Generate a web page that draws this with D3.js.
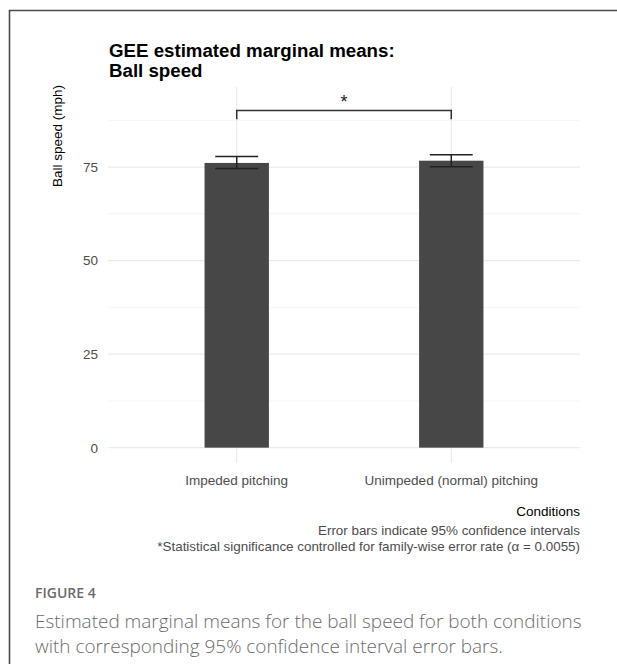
<!DOCTYPE html>
<html>
<head>
<meta charset="utf-8">
<script src="https://cdn.jsdelivr.net/npm/d3@7"></script>
<style>
  html, body { margin: 0; padding: 0; background: #fff; }
  svg { display: block; }
</style>
</head>
<body>
<svg id="chart" width="617" height="664"></svg>
<script>
// ---- data ----
const categories = ["Impeded pitching", "Unimpeded (normal) pitching"];
const means = [76.1, 76.7];
const ciLower = [74.6, 75.1];
const ciUpper = [77.8, 78.3];
const yTicks = [0, 25, 50, 75];
const yMinorTicks = [12.5, 37.5, 62.5, 87.5];
const bracketValue = 90.1;
const bracketDrop = 87.8;
const sigLabel = "*";
const titleLines = ["GEE estimated marginal means:", "Ball speed"];
const yTitle = "Ball speed (mph)";
const xTitle = "Conditions";
const captionLines = ["Error bars indicate 95% confidence intervals",
  "*Statistical significance controlled for family-wise error rate (\u03b1 = 0.0055)"];
const figLabel = "FIGURE 4";
const figCaption = ["Estimated marginal means for the ball speed for both conditions",
  "with corresponding 95% confidence interval error bars."];

// ---- layout ----
const svg = d3.select("#chart");
const plot = {left: 108, right: 580, top: 87, bottom: 463};
const sans = "'Liberation Sans', Arial, Helvetica, sans-serif";

// frame
svg.append("path")
  .attr("d", "M9.5,664 L9.5,10.5 L617,10.5")
  .attr("fill", "none").attr("stroke", "#4a4a4a").attr("stroke-width", 1.6);

const y = d3.scaleLinear().domain([-4.1, 96.4]).range([plot.bottom, plot.top]);
const x = d3.scalePoint().domain(categories).range([plot.left, plot.right]).padding(0.6);
const step = x.step();
const barW = step * 0.3;
const errW = step * 0.2;

const g = svg.append("g");

// minor gridlines
g.selectAll(".minor").data(yMinorTicks).enter().append("line")
  .attr("x1", plot.left).attr("x2", plot.right)
  .attr("y1", d => y(d)).attr("y2", d => y(d))
  .attr("stroke", "#f2f2f2").attr("stroke-width", 0.8);
// major gridlines
g.selectAll(".major").data(yTicks).enter().append("line")
  .attr("x1", plot.left).attr("x2", plot.right)
  .attr("y1", d => y(d)).attr("y2", d => y(d))
  .attr("stroke", "#ebebeb").attr("stroke-width", 1.2);
// vertical gridlines
g.selectAll(".vgrid").data(categories).enter().append("line")
  .attr("x1", d => x(d)).attr("x2", d => x(d))
  .attr("y1", plot.top).attr("y2", plot.bottom)
  .attr("stroke", "#ebebeb").attr("stroke-width", 1.2);

// bars
g.selectAll(".bar").data(categories).enter().append("rect")
  .attr("x", d => x(d) - barW / 2)
  .attr("width", barW)
  .attr("y", (d, i) => y(means[i]))
  .attr("height", (d, i) => y(0) - y(means[i]))
  .attr("fill", "#474747");

// error bars
const eb = g.selectAll(".eb").data(categories).enter().append("g");
eb.append("line")
  .attr("x1", d => x(d)).attr("x2", d => x(d))
  .attr("y1", (d, i) => y(ciLower[i])).attr("y2", (d, i) => y(ciUpper[i]));
eb.append("line")
  .attr("x1", d => x(d) - errW / 2).attr("x2", d => x(d) + errW / 2)
  .attr("y1", (d, i) => y(ciUpper[i])).attr("y2", (d, i) => y(ciUpper[i]));
eb.append("line")
  .attr("x1", d => x(d) - errW / 2).attr("x2", d => x(d) + errW / 2)
  .attr("y1", (d, i) => y(ciLower[i])).attr("y2", (d, i) => y(ciLower[i]));
eb.selectAll("line").attr("stroke", "#222").attr("stroke-width", 1.5);

// significance bracket
const x0 = x(categories[0]), x1 = x(categories[1]);
g.append("path")
  .attr("d", `M${x0},${y(bracketDrop)} L${x0},${y(bracketValue)} L${x1},${y(bracketValue)} L${x1},${y(bracketDrop)}`)
  .attr("fill", "none").attr("stroke", "#333").attr("stroke-width", 1.5);
g.append("text")
  .attr("x", (x0 + x1) / 2).attr("y", y(bracketValue) - 3)
  .attr("text-anchor", "middle")
  .attr("font-family", sans).attr("font-size", 18).attr("fill", "#222")
  .text(sigLabel);

// y axis tick labels
g.selectAll(".ytl").data(yTicks).enter().append("text")
  .attr("x", 98).attr("y", d => y(d)).attr("dy", "0.36em")
  .attr("text-anchor", "end")
  .attr("font-family", sans).attr("font-size", 13.5).attr("fill", "#4d4d4d")
  .text(d => d3.format("d")(d));

// x axis tick labels
g.selectAll(".xtl").data(categories).enter().append("text")
  .attr("x", d => x(d)).attr("y", 485)
  .attr("text-anchor", "middle")
  .attr("font-family", sans).attr("font-size", 13.5).attr("fill", "#4d4d4d")
  .text(d => d);

// y title
svg.append("text")
  .attr("transform", "translate(62,85) rotate(-90)")
  .attr("text-anchor", "end")
  .attr("font-family", sans).attr("font-size", 13.5).attr("fill", "#000")
  .text(yTitle);

// x title
svg.append("text")
  .attr("x", plot.right).attr("y", 516)
  .attr("text-anchor", "end")
  .attr("font-family", sans).attr("font-size", 13.5).attr("fill", "#000")
  .text(xTitle);

// caption
svg.selectAll(".cap").data(captionLines).enter().append("text")
  .attr("x", plot.right).attr("y", (d, i) => 535 + i * 16)
  .attr("text-anchor", "end")
  .attr("font-family", sans).attr("font-size", 13.4).attr("fill", "#4d4d4d")
  .text(d => d);

// title
svg.selectAll(".title").data(titleLines).enter().append("text")
  .attr("x", 109).attr("y", (d, i) => 57 + i * 20)
  .attr("font-family", sans).attr("font-size", 18.7).attr("font-weight", "bold").attr("fill", "#000")
  .text(d => d);

// figure label and caption
const capFont = "'Open Sans', 'Noto Sans', sans-serif";
svg.append("text")
  .attr("x", 35).attr("y", 598)
  .attr("font-family", capFont).attr("font-size", 14).attr("font-weight", 600)
  .attr("fill", "#6b6b6b")
  .text(figLabel);
const figText = svg.selectAll(".fc").data(figCaption).enter().append("text")
  .attr("x", 35).attr("y", (d, i) => 628 + i * 25)
  .attr("font-family", capFont).attr("font-size", 18).attr("font-weight", 300)
  .attr("fill", "#6b6b6b")
  .text(d => d);
// fit first caption line to its width in the reference
const w0 = figText.node().getComputedTextLength();
const fs = 18 * 547 / w0;
figText.attr("font-size", fs);
</script>
</body>
</html>
